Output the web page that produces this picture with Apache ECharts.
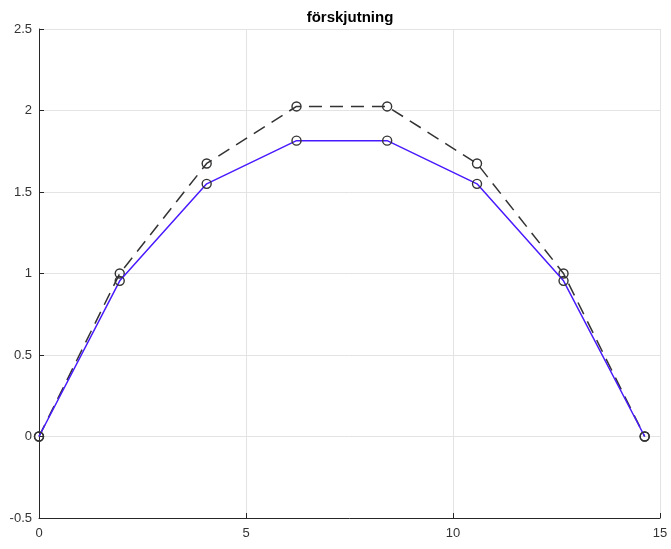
<!DOCTYPE html>
<html>
<head>
<meta charset="utf-8">
<script src="https://cdn.jsdelivr.net/npm/echarts@6/dist/echarts.min.js"></script>
<style>
html,body{margin:0;padding:0;background:#fff;}
#c{width:671px;height:549px;}
</style>
</head>
<body>
<div id="c"></div>
<script>
const titleText = 'förskjutning';
const xValues = [0, 1.95, 4.05, 6.22, 8.41, 10.58, 12.67, 14.63];
const dashedValues = [0, 1.0, 1.675, 2.025, 2.025, 1.675, 1.0, 0];
const blueValues = [0, 0.955, 1.55, 1.815, 1.815, 1.55, 0.955, 0];
const xTicks = [0, 5, 10, 15];
const yTicks = [-0.5, 0, 0.5, 1, 1.5, 2, 2.5];

const pair = (ys) => xValues.map((x, i) => [x, ys[i]]);
const font = 'Liberation Sans, Arial, Helvetica, sans-serif';

const chart = echarts.init(document.getElementById('c'), null, {renderer: 'canvas'});
chart.setOption({
  animation: false,
  backgroundColor: '#fff',
  title: {
    text: titleText,
    left: 345, top: 5, textAlign: 'center',
    textStyle: {fontFamily: font, fontSize: 15, fontWeight: 'bold', color: '#000'}
  },
  grid: {left: 39, right: 11, top: 29, bottom: 31, containLabel: false},
  xAxis: {
    type: 'value', min: 0, max: 15, interval: 5,
    axisLine: {show: true, onZero: false, lineStyle: {color: '#262626', width: 1}},
    axisTick: {show: true, inside: true, length: 5, lineStyle: {color: '#262626'}},
    axisLabel: {color: '#333', fontSize: 13, fontFamily: font, margin: 9,
      formatter: v => xTicks.includes(v) ? String(v) : ''},
    splitLine: {show: true, lineStyle: {color: '#e3e3e3', width: 1}}
  },
  yAxis: {
    type: 'value', min: -0.5, max: 2.5, interval: 0.5,
    axisLine: {show: true, onZero: false, lineStyle: {color: '#262626', width: 1}},
    axisTick: {show: true, inside: true, length: 5, lineStyle: {color: '#262626'}},
    axisLabel: {color: '#333', fontSize: 13, fontFamily: font, margin: 7,
      formatter: v => yTicks.includes(v) ? String(v) : ''},
    splitLine: {show: true, lineStyle: {color: '#e3e3e3', width: 1}}
  },
  series: [
    {
      type: 'line', data: pair(dashedValues),
      symbol: 'circle', symbolSize: 9,
      lineStyle: {color: '#333', width: 1.5, type: [13, 8]},
      itemStyle: {color: 'transparent', borderColor: '#333', borderWidth: 1.4},
      z: 2
    },
    {
      type: 'line', data: pair(blueValues),
      symbol: 'circle', symbolSize: 9,
      lineStyle: {color: '#4a1aff', width: 1.5},
      itemStyle: {color: 'transparent', borderColor: '#333', borderWidth: 1.4},
      z: 3
    }
  ]
});
</script>
</body>
</html>
